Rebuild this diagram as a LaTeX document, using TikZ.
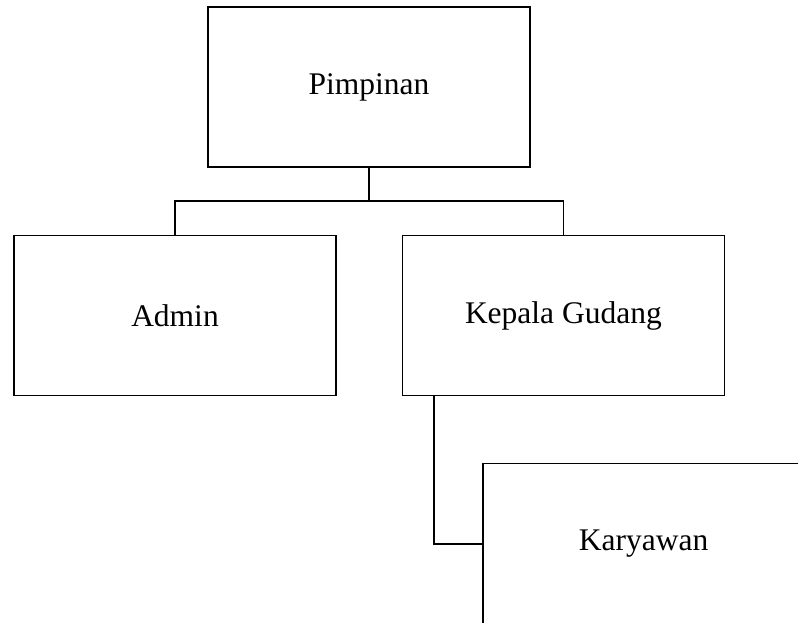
\documentclass[tikz,border=0pt]{standalone}
\usepackage{fontspec}
\setmainfont{Liberation Serif}
\usetikzlibrary{calc}
\begin{document}
\begin{tikzpicture}[x=1pt,y=1pt,
  orgbox/.style={draw=black, line width=1.8pt, minimum width=322pt, minimum height=160pt, inner sep=0pt, outer sep=0pt, font=\fontsize{31.5}{36}\selectfont},
  link/.style={draw=black, line width=1.8pt}]
\useasboundingbox (0,0) rectangle (798,-623);
\clip (0,0) rectangle (798,-623);
\node[orgbox] (P) at (369,-87) {Pimpinan};
\node[orgbox] (A) at (175,-315.5) {Admin};
\node[orgbox] (K) at (563.4,-315.5) {Kepala Gudang};
\node[orgbox, minimum height=161pt] (Y) at (643.7,-544) {Karyawan};
\coordinate (J) at ($(P.south)+(0,-34)$);
\draw[link] (P.south) -- (J);
\draw[link] (J) -| (A.north);
\draw[link] (J) -| (K.north);
\draw[link] ([xshift=31.6pt]K.south west) |- (Y.west);
\end{tikzpicture}
\end{document}
